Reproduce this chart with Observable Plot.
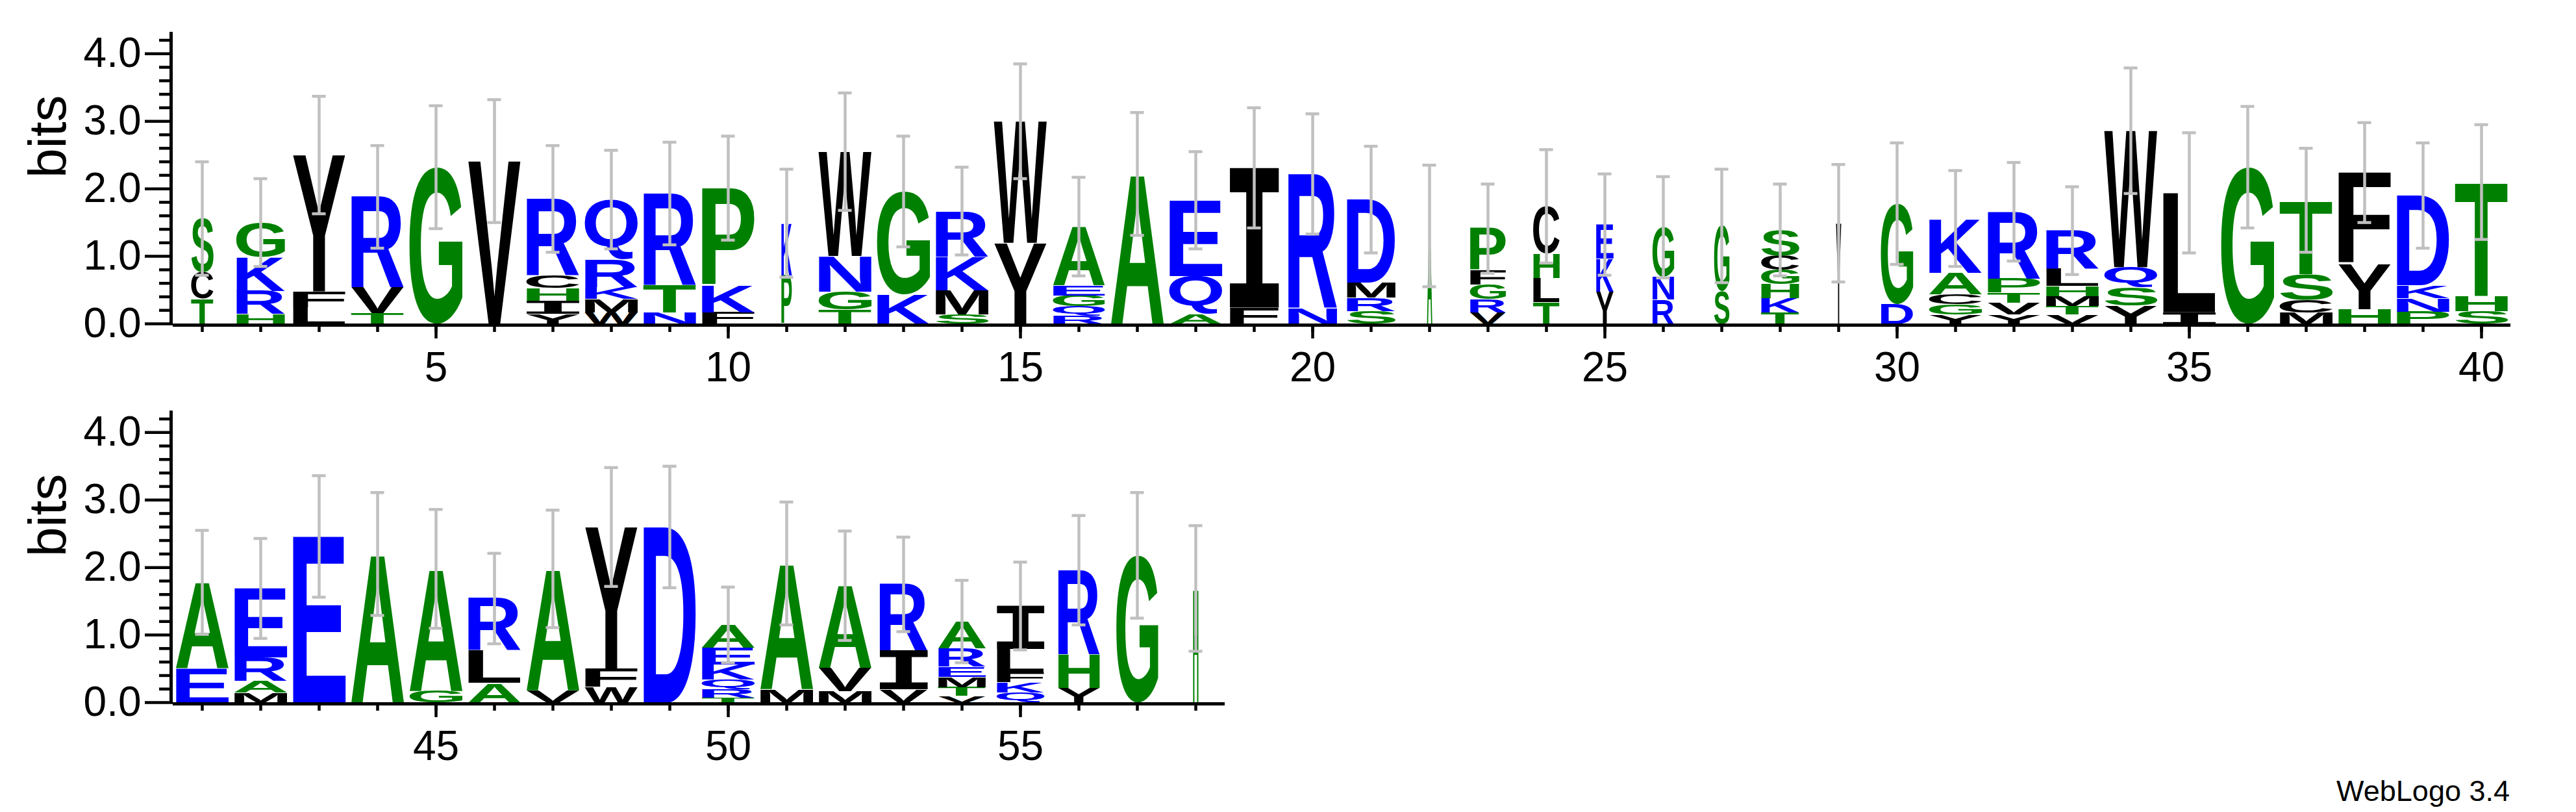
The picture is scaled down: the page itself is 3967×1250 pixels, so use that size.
<!DOCTYPE html>
<html>
<head>
<meta charset="utf-8">
<script src="https://cdn.jsdelivr.net/npm/d3@7"></script>
<script src="https://cdn.jsdelivr.net/npm/@observablehq/plot@0.6"></script>
<style>
html, body { margin: 0; padding: 0; background: #fff; }
#chart { position: relative; width: 3967px; height: 1250px; background: #fff; }
#chart svg { display: block; }
#caption { position: absolute; right: 102px; top: 1195px; font-family: 'Liberation Sans', Arial, sans-serif; font-size: 45px; line-height: 45px; color: #000; }
</style>
</head>
<body>
<div id="chart"></div>
<script>
// ---- data: letters of each stack, bottom to top ----
const stackLetters = ["TCS","HRKG","LFY","TVR","G","V","YIHCR","WMKRQ","NTR","FKP",
  "PK","TGNW","KG","SMKR","YW","RQGEA","A","AQE","FI","NR",
  "SRMD","A","VRGFP","TLHC","YKE","RNG","SG","TKHGCS","Y","DG",
  "YGCAK","YVTPR","VTMHLR","YSQW","IL","G","MCST","HYF","PNKD","SHT",
  "EA","MARE","E","A","GA","ALR","VA","WFY","D","TRQKEA",
  "MA","MVA","VIR","VTMERA","QKFLI","YHR","G","H"];
// ---- information content (bits) of each letter, bottom to top ----
const stackBits = [
  [.37,.39,.80],[.15,.34,.50,.51],[.24,.24,2.02],[.16,.38,1.34],[2.32],[2.41],
  [.15,.19,.19,.19,1.13],[.17,.20,.17,.41,.89],[.17,.41,1.35],[.17,.40,1.44],
  [.72,.77],[.21,.27,.53,1.54],[.44,1.52],[.14,.36,.50,.67],[1.20,1.80],
  [.12,.14,.16,.15,.87],[2.22],[.15,.56,1.12],[.24,2.07],[.24,1.98],
  [.19,.20,.22,1.23],[1.45],[.17,.20,.21,.21,.62],[.32,.36,.36,.70],[.48,.49,.50],
  [.36,.34,.73],[.48,.97],[.17,.21,.21,.21,.21,.38],[1.49],[.29,1.49],
  [.14,.15,.15,.32,.80],[.14,.17,.15,.21,.99],[.14,.12,.15,.15,.26,.56],[.27,.27,.30,2.02],[.17,1.77],
  [2.32],[.17,.19,.38,1.09],[.22,.67,1.35],[.18,.20,.19,1.33],[.19,.22,1.69],
  [.51,1.27],[.15,.17,.35,1.02],[2.46],[2.20],[.17,1.81],
  [.29,.48,.77],[.18,1.80],[.23,.27,2.10],[2.60],[.07,.12,.15,.22,.25,.34],
  [.20,1.86],[.17,.34,1.22],[.20,.57,.98],[.10,.13,.15,.15,.27,.40],[.15,.15,.15,.34,.64],
  [.22,.50,1.24],[2.18],[1.69]
];
// ---- error bar half-widths (bits) ----
const errorBits = [.84,.65,.87,.76,.91,.91,.79,.73,.76,.77,
  .80,.87,.82,.65,.85,.73,.91,.72,.89,.89,
  .79,.90,.66,.84,.75,.75,.84,.68,.87,.90,
  .71,.73,.65,.93,.89,.90,.77,.74,.78,.85,
  .77,.74,.90,.91,.88,.67,.87,.88,.90,.56,
  .91,.81,.70,.61,.65,.81,.93,.93];
// ---- fraction of symbols in each column (stack width) ----
const columnWeight = [.42,.92,1,1,1,1,1,1,1,1,
  .2,1,1,1,1,.98,1,1,.93,.93,
  .92,.1,.68,.5,.33,.41,.29,.72,.1,.61,
  1,1,1,1,1,1,1,1,1,1,
  1,1,1,1,1,1,1,1,1,1,
  1,1,.91,.9,.9,.79,.79,.1];
// ---- tick labels ----
const yMajorTicks = [0, 1, 2, 3, 4];
const yMinorTicks = [0.2,0.4,0.6,0.8,1.2,1.4,1.6,1.8,2.2,2.4,2.6,2.8,3.2,3.4,3.6,3.8,4.2];
const topMajorTicks = [5, 10, 15, 20, 25, 30, 35, 40];
const bottomMajorTicks = [45, 50, 55];
const yLabel = "bits";
const captionText = "WebLogo 3.4";

const SANS = "'Liberation Sans', Arial, Helvetica, sans-serif";
const MONO = "'DejaVu Sans Mono', 'Liberation Mono', monospace";
const blueSet = "RKDENQ", greenSet = "SGHTAP";
const colorOf = L => blueSet.includes(L) ? "#0000ff" : greenSet.includes(L) ? "#008000" : "#000000";

const letterRows = [], columnRows = [];
stackLetters.forEach((s, i) => {
  let y = 0;
  const pos = i + 1, half = 0.4555 * columnWeight[i];
  [...s].forEach((L, j) => {
    const h = stackBits[i][j];
    letterRows.push({pos, letter: L, y0: y, y1: y + h, half});
    y += h;
  });
  columnRows.push({pos, total: y, err: errorBits[i]});
});

function logoRow({first, last, height, marginTop, marginBottom, majors}) {
  const letters = letterRows.filter(d => d.pos >= first && d.pos <= last);
  const cols = columnRows.filter(d => d.pos >= first && d.pos <= last);
  const ints = d3.range(first, last + 1);
  const eb = "#c0c0c0";
  const svg = Plot.plot({
    width: 3967, height,
    marginLeft: 266, marginRight: 3967 - (266 + 90 * (last - first + 1)),
    marginTop, marginBottom,
    x: {domain: [first - 0.5, last + 0.5]},
    y: {domain: [0, 4.32]},
    color: {type: "identity"},
    style: {background: "white", color: "black", fontFamily: SANS},
    marks: [
      Plot.text(letters, {x: "pos", y: d => (d.y0 + d.y1) / 2, text: "letter", fill: d => colorOf(d.letter), fontSize: 100, fontWeight: "bold"}),
      Plot.ruleX(cols, {x: "pos", y1: d => d.total - d.err, y2: d => d.total + d.err, stroke: eb, strokeWidth: 4.5}),
      Plot.ruleY(cols, {y: d => d.total - d.err, x1: d => d.pos - 0.117, x2: d => d.pos + 0.117, stroke: eb, strokeWidth: 4.5}),
      Plot.ruleY(cols, {y: d => d.total + d.err, x1: d => d.pos - 0.117, x2: d => d.pos + 0.117, stroke: eb, strokeWidth: 4.5}),
      Plot.ruleY([0], {stroke: "black", strokeWidth: 5, dy: 2}),
      Plot.ruleX([first - 0.5], {y1: 0, y2: 4.32, stroke: "black", strokeWidth: 5, dx: -3}),
      Plot.axisY({ticks: yMajorTicks, tickSize: 43, tickPadding: 6, tickFormat: d3.format(".1f"), fontSize: 64, strokeWidth: 4.5, label: null}),
      Plot.axisY({ticks: yMinorTicks, tickSize: 21, tickFormat: () => "", strokeWidth: 4.5, label: null}),
      Plot.axisX({ticks: ints, tickSize: 13, tickFormat: () => "", strokeWidth: 4.5, label: null}),
      Plot.axisX({ticks: majors, tickSize: 23, tickPadding: 20, tickFormat: d => String(d), fontSize: 64, strokeWidth: 4.5, label: null}),
      Plot.text([yLabel], {text: d => d, frameAnchor: "left", dx: -192, rotate: -90, fontSize: 82})
    ]
  });
  fitLetters(svg, letters);
  return svg;
}

function scaleFn(s) {
  if (s && typeof s.apply === "function") return v => s.apply(v);
  const [d0, d1] = s.domain, [r0, r1] = s.range;
  return v => r0 + (v - d0) / (d1 - d0) * (r1 - r0);
}

const ctx = document.createElement("canvas").getContext("2d");
const inkCache = {};
function ink(letter) {
  if (!inkCache[letter]) {
    const fam = letter === "I" ? MONO : SANS;
    ctx.font = `bold 100px ${fam}`;
    const m = ctx.measureText(letter);
    inkCache[letter] = {fam, L: m.actualBoundingBoxLeft, R: m.actualBoundingBoxRight, A: m.actualBoundingBoxAscent, D: m.actualBoundingBoxDescent};
  }
  return inkCache[letter];
}
function fitLetters(svg, letters) {
  const xs = scaleFn(svg.scale("x")), ys = scaleFn(svg.scale("y"));
  const texts = Array.from(svg.querySelectorAll("text")).filter(t => /^[A-Z]$/.test(t.textContent));
  texts.forEach((t, i) => {
    const d = letters[i];
    if (!d) return;
    const bx = xs(d.pos - d.half), bx2 = xs(d.pos + d.half);
    const by = ys(d.y1), by2 = ys(d.y0);
    const k = ink(d.letter);
    const sx = (bx2 - bx) / (k.L + k.R), sy = (by2 - by) / (k.A + k.D);
    t.removeAttribute("dy");
    t.setAttribute("x", 0);
    t.setAttribute("y", 0);
    t.setAttribute("text-anchor", "start");
    t.setAttribute("font-family", k.fam);
    t.setAttribute("font-weight", "bold");
    t.setAttribute("font-size", 100);
    t.setAttribute("transform", `translate(${bx},${by}) scale(${sx},${sy}) translate(${k.L},${k.A})`);
    t.style.dominantBaseline = "alphabetic";
  });
}

const chartEl = document.getElementById("chart");
const topRow = logoRow({first: 1, last: 40, height: 615, marginTop: 49, marginBottom: 117, majors: topMajorTicks});
const bottomRow = logoRow({first: 41, last: 58, height: 575, marginTop: 17, marginBottom: 109, majors: bottomMajorTicks});
chartEl.appendChild(topRow);
chartEl.appendChild(bottomRow);
const cap = document.createElement("div");
cap.id = "caption";
cap.textContent = captionText;
chartEl.appendChild(cap);
</script>
</body>
</html>
